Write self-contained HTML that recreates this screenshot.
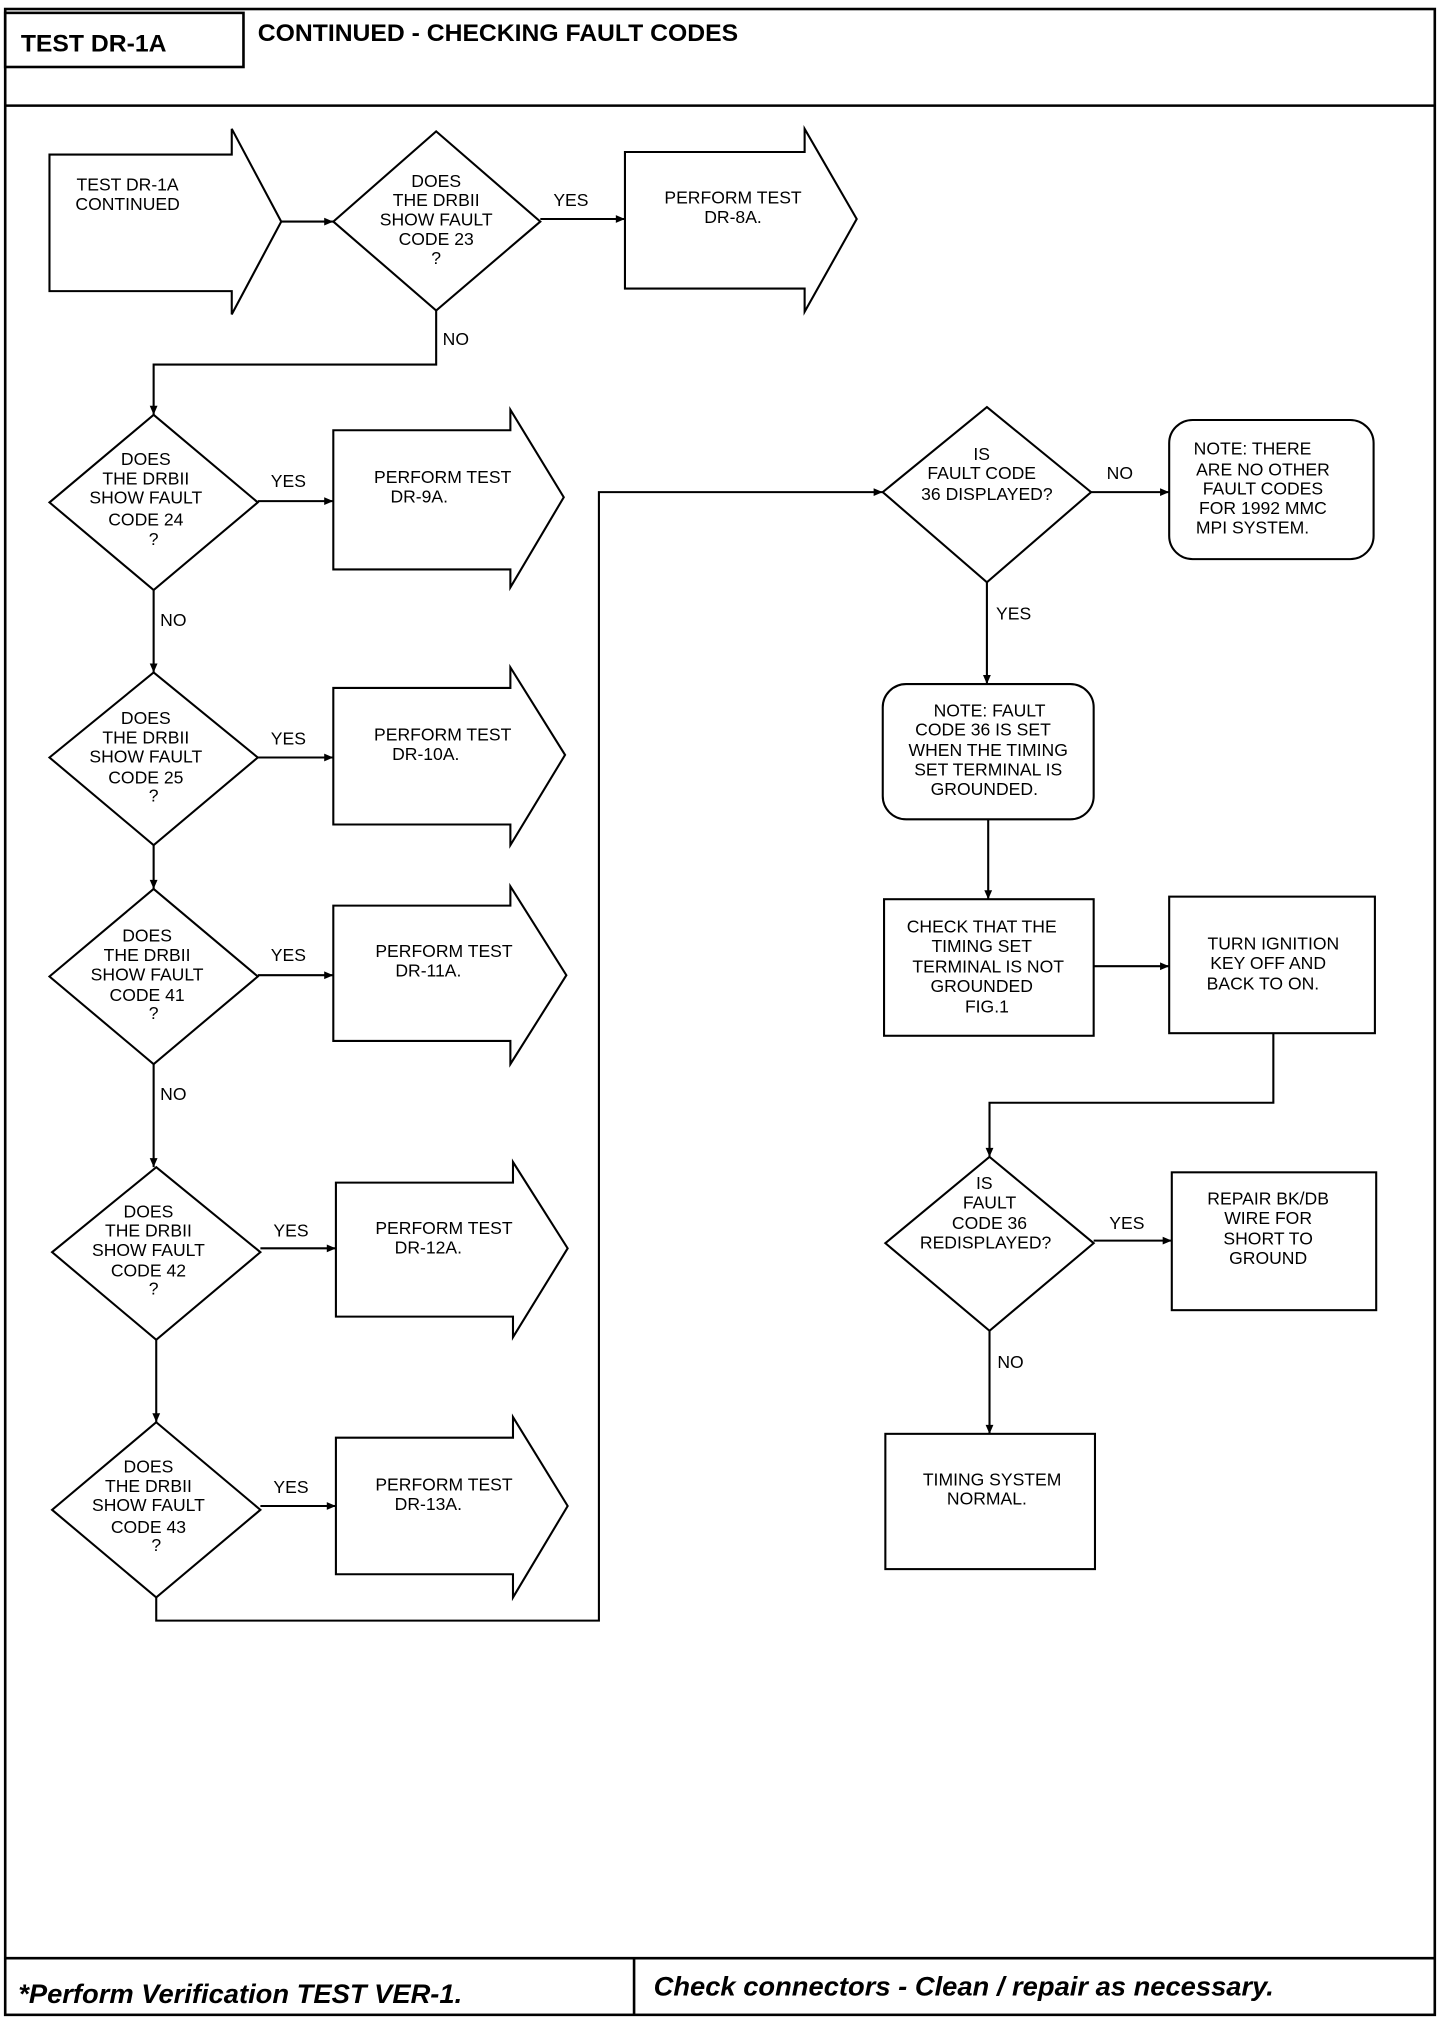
<!DOCTYPE html>
<html><head><meta charset="utf-8"><style>
html,body{margin:0;padding:0;background:#fff}
svg{display:block}
text{font-family:"Liberation Sans",sans-serif;font-size:13.5px;fill:#000}
.h{font-weight:bold;font-size:19px}
.f{font-weight:bold;font-style:italic;font-size:21px}
</style></head><body>
<svg width="1440" height="2020" viewBox="0 0 1106 1568" preserveAspectRatio="none" xmlns="http://www.w3.org/2000/svg">
<g fill="none" stroke="#000" stroke-width="2">
<rect x="4" y="7" width="1098" height="1557"/>
<line x1="4" y1="82" x2="1102" y2="82"/>
<rect x="4" y="10" width="183" height="42"/>
<line x1="4" y1="1520" x2="1102" y2="1520"/>
<line x1="487" y1="1520" x2="487" y2="1564"/>
</g>
<text class="h" x="16" y="40" font-size="22">TEST DR-1A</text>
<text class="h" x="198" y="32">CONTINUED -  CHECKING FAULT CODES</text>
<text class="f" x="14" y="1555">*Perform Verification TEST VER-1.</text>
<text class="f" x="502" y="1549">Check connectors - Clean / repair  as necessary.</text>

<g fill="none" stroke="#000" stroke-width="1.6">
<!-- arrows shapes -->
<path d="M38 120H178V100L216 172L178 244V226H38Z"/>
<path d="M480 118H618V100L658 170L618 242V224H480Z"/>
<path d="M256 334H392V318L433 386L392 456V442H256Z"/>
<path d="M256 534H392V518L434 586L392 656V640H256Z"/>
<path d="M256 703H392V688L435 757L392 826V808H256Z"/>
<path d="M258 918H394V902L436 969L394 1038V1022H258Z"/>
<path d="M258 1116H394V1100L436 1169L394 1240V1222H258Z"/>
<!-- diamonds -->
<path d="M335 102L415 172L335 241L256 172Z"/>
<path d="M118 322L198 390L118 458L38 390Z"/>
<path d="M118 522L198 588L118 656L38 588Z"/>
<path d="M118 690L198 758L118 826L38 758Z"/>
<path d="M120 906L200 972L120 1040L40 972Z"/>
<path d="M120 1104L200 1172L120 1240L40 1172Z"/>
<path d="M758 316L838 382L758 452L678 382Z"/>
<path d="M760 898L840 965L760 1033L680 965Z"/>
<!-- boxes -->
<rect x="898" y="326" width="157" height="108" rx="18"/>
<rect x="678" y="531" width="162" height="105" rx="18"/>
<rect x="679" y="698" width="161" height="106"/>
<rect x="898" y="696" width="158" height="106"/>
<rect x="900" y="910" width="157" height="107"/>
<rect x="680" y="1113" width="161" height="105"/>
<!-- connectors -->
<path d="M216 172H256M415 170H480M335 241V283H118V322M198 389H256M118 458V522M198 588H256M118 656V690M198 757H256M118 826V906M200 969H258M120 1040V1104M200 1169H258M120 1240V1258H460V382H678M838 382H898M758 452V531M759 636V698M840 750H898M978 802V856H760V898M840 963H900M760 1033V1113"/>
</g>
<g fill="#000">
<path d="M256 172l-7-3v6zM480 170l-7-3v6zM118 322l-3-7h6zM256 389l-7-3v6zM118 522l-3-7h6zM256 588l-7-3v6zM118 690l-3-7h6zM256 757l-7-3v6zM118 906l-3-7h6zM258 969l-7-3v6zM120 1104l-3-7h6zM258 1169l-7-3v6zM678 382l-7-3v6zM898 382l-7-3v6zM758 531l-3-7h6zM759 698l-3-7h6zM898 750l-7-3v6zM760 898l-3-7h6zM900 963l-7-3v6zM760 1113l-3-7h6z"/>
</g>
<g text-anchor="middle">
<text x="98" y="148">TEST DR-1A</text><text x="98" y="163">CONTINUED</text>
<text x="335" y="145">DOES</text><text x="335" y="160">THE DRBII</text><text x="335" y="175">SHOW FAULT</text><text x="335" y="190">CODE 23</text><text x="335" y="205">?</text>
<text x="563" y="158">PERFORM TEST</text><text x="563" y="173">DR-8A.</text>
<g><text x="112" y="361">DOES</text><text x="112" y="376">THE DRBII</text><text x="112" y="391">SHOW FAULT</text><text x="112" y="408">CODE 24</text><text x="118" y="423">?</text></g>
<text x="340" y="375">PERFORM TEST</text><text x="322" y="390">DR-9A.</text>
<g><text x="112" y="562">DOES</text><text x="112" y="577">THE DRBII</text><text x="112" y="592">SHOW FAULT</text><text x="112" y="608">CODE 25</text><text x="118" y="622">?</text></g>
<text x="340" y="575">PERFORM TEST</text><text x="327" y="590">DR-10A.</text>
<g><text x="113" y="731">DOES</text><text x="113" y="746">THE DRBII</text><text x="113" y="761">SHOW FAULT</text><text x="113" y="777">CODE 41</text><text x="118" y="791">?</text></g>
<text x="341" y="743">PERFORM TEST</text><text x="329" y="758">DR-11A.</text>
<g><text x="114" y="945">DOES</text><text x="114" y="960">THE DRBII</text><text x="114" y="975">SHOW FAULT</text><text x="114" y="991">CODE 42</text><text x="118" y="1005">?</text></g>
<text x="341" y="958">PERFORM TEST</text><text x="329" y="973">DR-12A.</text>
<g><text x="114" y="1143">DOES</text><text x="114" y="1158">THE DRBII</text><text x="114" y="1173">SHOW FAULT</text><text x="114" y="1190">CODE 43</text><text x="120" y="1204">?</text></g>
<text x="341" y="1157">PERFORM TEST</text><text x="329" y="1172">DR-13A.</text>
<text x="754" y="357">IS</text><text x="754" y="372">FAULT CODE</text><text x="758" y="388">36 DISPLAYED?</text>
<text x="962" y="353">NOTE: THERE</text><text x="970" y="369">ARE NO OTHER</text><text x="970" y="384">FAULT CODES</text><text x="970" y="399">FOR 1992 MMC</text><text x="962" y="414">MPI SYSTEM.</text>
<text x="760" y="556">NOTE: FAULT</text><text x="755" y="571">CODE 36 IS SET</text><text x="759" y="587">WHEN THE TIMING</text><text x="759" y="602">SET TERMINAL IS</text><text x="756" y="617">GROUNDED.</text>
<text x="754" y="724">CHECK THAT THE</text><text x="754" y="739">TIMING SET</text><text x="759" y="755">TERMINAL IS NOT</text><text x="754" y="770">GROUNDED</text><text x="758" y="786">FIG.1</text>
<text x="978" y="737">TURN IGNITION</text><text x="974" y="752">KEY OFF AND</text><text x="970" y="768">BACK TO ON.</text>
<text x="756" y="923">IS</text><text x="760" y="938">FAULT</text><text x="760" y="954">CODE 36</text><text x="757" y="969">REDISPLAYED?</text>
<text x="974" y="935">REPAIR BK/DB</text><text x="974" y="950">WIRE FOR</text><text x="974" y="966">SHORT TO</text><text x="974" y="981">GROUND</text>
<text x="762" y="1153">TIMING SYSTEM</text><text x="758" y="1168">NORMAL.</text>
</g>
<text x="425" y="160">YES</text><text x="340" y="268">NO</text>
<text x="208" y="378">YES</text><text x="123" y="486">NO</text>
<text x="208" y="578">YES</text>
<text x="208" y="746">YES</text><text x="123" y="854">NO</text>
<text x="210" y="960">YES</text><text x="210" y="1159">YES</text>
<text x="850" y="372">NO</text><text x="765" y="481">YES</text>
<text x="852" y="954">YES</text><text x="766" y="1062">NO</text>
</svg>
</body></html>
